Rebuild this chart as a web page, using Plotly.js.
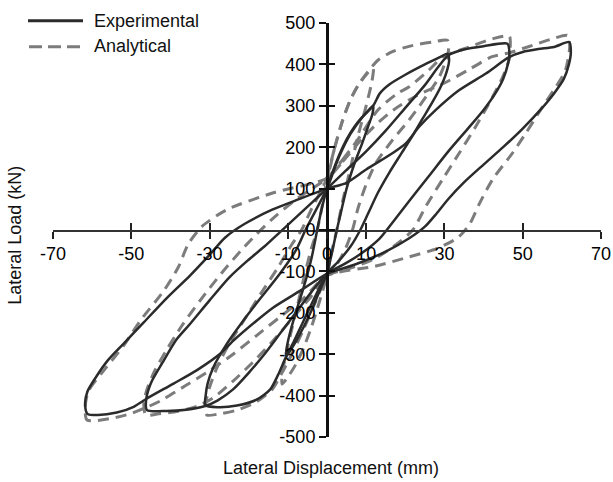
<!DOCTYPE html>
<html><head><meta charset="utf-8">
<script src="https://cdn.plot.ly/plotly-3.0.1.min.js"></script>
<style>html,body{margin:0;padding:0;background:#fff}</style>
</head><body><div id="chart" style="width:613px;height:482px"></div>
<script>
// ---- Experimental loops (solid) : displacement (mm), load (kN)
var exp1X = [0,2,4,6,8,10,11.8, 11.6,10.5,9,7,5,3.5,2.5,1.5,0, -2,-4,-6,-8,-10,-10.5, -10.3,-9.5,-8,-6,-4,-2.5,-1.5,0];
var exp1Y = [100,155,200,235,262,283,300, 280,250,210,160,100,40,0,-45,-105, -150,-195,-235,-270,-300,-307, -285,-250,-200,-140,-70,0,45,100];

var exp2X = [0,3,6,9,11.8,13.5,16,20,25,29,30.8, 31.2,30.5,29,27,24.5,22,19,16,13,10.5,8.5,6,3,0, -3,-6,-8.5,-10.5,-12.5,-14.5,-18,-23,-28,-31.1, -31,-30.5,-29,-25.6,-21.4,-17,-12,-8,-5.5,-3,0];
var exp2Y = [100,175,232,272,300,330,352,375,400,418,426, 410,380,345,310,270,230,185,140,90,40,0,-40,-75,-105, -160,-220,-270,-307,-350,-385,-410,-424,-428,-423, -400,-371,-331,-275,-219,-165,-105,-50,0,45,100];

var exp3X = [0,5,10,15,20,25,28.5,31,35,40,46.1, 46.6,46.2,45,43,40,36,31,26,21,16.5,13.5,9,4.5,0, -4,-8,-12,-16,-20,-24,-28,-31.1,-36,-41,-46, -46.2,-45,-42,-38.5,-35,-30,-25,-20.3,-16,-12,-8,-4,0];
var exp3Y = [100,145,190,240,295,350,395,422,436,444,450, 428,400,365,330,290,245,190,130,70,15,-20,-55,-82,-105, -150,-200,-250,-300,-345,-385,-412,-425,-434,-437,-435, -410,-370,-320,-265,-227,-170,-115,-74,-40,-5,30,65,100];

var exp4X = [0,5,10,16.8,20.2,23.6,27.8,33.8,40.6,46.6,50,54,58,61.9, 62.3,61.8,60.5,58,54.5,50,45,40,35,31,28,25,21,15,7,0, -6.9,-13.7,-18,-23.9,-27.3,-33.3,-39.2,-46,-49.4,-53.7,-58.5,-61.2, -61.8,-61.2,-59,-56,-52,-47,-41,-35,-30,-26,-21,-14,-7,0];
var exp4Y = [100,114,146,186,210,250,290,338,378,418,430,437,442,454, 430,400,365,330,290,245,200,158,115,75,40,8,-20,-52,-84,-106, -147,-187,-219,-267,-299,-339,-371,-407,-427,-441,-447,-444, -420,-390,-355,-315,-275,-225,-165,-110,-60,-18,15,49,75,100];

// ---- Analytical loops (dashed)
var ana1X = [0,2,4,6,8,10,11.8, 11.5,10,8,6,4,2.5,1,0, -2,-4,-6,-8,-10,-11.5, -11.3,-10,-8,-6,-4,-2.5,-1,0];
var ana1Y = [125,200,265,315,350,375,390, 360,300,230,150,70,0,-60,-110, -175,-235,-285,-325,-355,-372, -340,-280,-200,-120,-45,0,70,125];

var ana2X = [0,2,4,6,8,10.5,13,17,22,27,30.8, 31,30.4,28.7,25.3,21,16.8,12.5,10,8,6.5,4.5,2,0, -3,-6,-9,-11.5,-14,-18,-23,-28,-30.7, -31,-30,-28,-25,-21,-17,-12.5,-9,-6.5,-4,0];
var ana2Y = [125,200,265,315,350,383,410,432,446,454,458, 430,410,370,322,266,218,162,110,55,0,-50,-90,-110, -175,-240,-300,-345,-385,-415,-435,-445,-447, -420,-380,-330,-275,-215,-155,-90,-35,0,50,125];

var ana3X = [0,4,8,13,18,21,26,29.5,32,36.3,42.3,46.6, 46.8,46.7,44.9,41.4,38,33.8,29.5,25.3,21.9,17,12,6,0, -4,-9,-14,-19,-24,-29,-33,-38,-43,-46.3, -46.8,-46,-44,-41,-37,-32,-27,-22,-18,-13,-7,0];
var ana3Y = [125,170,220,290,330,346,386,418,428,442,462,468, 440,418,370,306,250,186,122,58,0,-40,-70,-92,-110, -160,-215,-270,-320,-365,-405,-425,-438,-444,-447, -420,-385,-340,-290,-230,-165,-105,-50,-10,35,80,125];

var ana4X = [0,4,8,12,17,23,30,36,42,46.6,52.5,57,61.5, 62,60.9,58.5,55.1,50.8,47.4,42.3,39,36.5,33.5,28,21,12.5,0, -6,-12,-18,-24,-30,-36,-42,-46,-50,-55,-61.3, -61.8,-61,-57,-52,-47.7,-41.7,-38,-35.5,-32,-25.6,-13.7,0];
var ana4Y = [125,165,210,250,290,325,355,386,418,428,446,460,470, 442,386,346,298,234,186,122,65,15,-18,-45,-65,-87,-110, -165,-210,-255,-300,-340,-375,-410,-428,-443,-455,-459, -430,-390,-339,-280,-219,-147,-90,-35,8,49,90,125];

// ---- Axis ticks and labels
var xTickVals = [-70,-50,-30,-10,0,10,30,50,70];
var xTickText = ['-70','-50','-30','-10','0','10','30','50','70'];
var xMarkVals = [-70,-50,-30,-10,10,30,50,70];
var yTickVals = [-500,-400,-300,-200,-100,0,100,200,300,400,500];
var yTickText = ['-500','-400','-300','-200','-100','0','100','200','300','400','500'];
var seriesNames = ['Experimental','Analytical'];
var xTitle = 'Lateral Displacement (mm)';
var yTitle = 'Lateral Load (kN)';

var SOLID = '#2b2b2b', DASHED = '#7c7c7c', DASHPAT = '11px,7px';
var FONT = 'Liberation Sans, Arial, Helvetica, sans-serif';

function loopTrace(x, y, isExp) {
  return {x: x, y: y, type: 'scatter', mode: 'lines', showlegend: false, hoverinfo: 'skip',
    name: isExp ? seriesNames[0] : seriesNames[1],
    line: {color: isExp ? SOLID : DASHED, width: isExp ? 2.5 : 3, dash: isExp ? 'solid' : DASHPAT,
           shape: 'spline', smoothing: 0.7}};
}

var traces = [
  loopTrace(ana1X, ana1Y, false), loopTrace(ana2X, ana2Y, false),
  loopTrace(ana3X, ana3Y, false), loopTrace(ana4X, ana4Y, false),
  loopTrace(exp1X, exp1Y, true), loopTrace(exp2X, exp2Y, true),
  loopTrace(exp3X, exp3Y, true), loopTrace(exp4X, exp4Y, true),
  {x: [0], y: [0], xaxis: 'x2', yaxis: 'y2', type: 'scatter', mode: 'markers',
   marker: {opacity: 0, size: 1}, showlegend: false, hoverinfo: 'skip'}
];

var W = 548, H = 414.3, L = 53, T = 23;
function px2x(p) { return (p - L) / W; }
function px2y(p) { return (T + H - p) / H; }

var layout = {
  width: 613, height: 482,
  margin: {l: L, r: 613 - L - W, t: T, b: 482 - T - H, pad: 0},
  paper_bgcolor: '#fff', plot_bgcolor: '#fff',
  font: {family: FONT, size: 18, color: '#000'},
  showlegend: false,
  xaxis: {range: [-70, 70], anchor: 'free', position: 0.5, showgrid: false, zeroline: false,
    showline: true, linecolor: '#333', linewidth: 1.5,
    ticks: 'outside', ticklen: 7, tickwidth: 2, tickcolor: '#222',
    tickmode: 'array', tickvals: xTickVals, ticktext: xTickText,
    tickfont: {family: FONT, size: 18, color: '#000'}},
  xaxis2: {range: [-70, 70], overlaying: 'x', anchor: 'free', position: 0.5, showgrid: false, zeroline: false,
    showline: false, ticks: 'inside', ticklen: 7, tickwidth: 2, tickcolor: '#222',
    tickmode: 'array', tickvals: xMarkVals, showticklabels: false},
  yaxis: {range: [-500, 500], anchor: 'free', position: 0.5, showgrid: false, zeroline: false,
    showline: true, linecolor: '#111', linewidth: 3,
    ticks: 'outside', ticklen: 7, tickwidth: 2, tickcolor: '#111',
    tickmode: 'array', tickvals: yTickVals, ticktext: yTickText,
    tickfont: {family: FONT, size: 18, color: '#000'}},
  yaxis2: {range: [-500, 500], overlaying: 'y', anchor: 'free', position: 0.5, showgrid: false, zeroline: false,
    showline: false, ticks: 'inside', ticklen: 7, tickwidth: 2, tickcolor: '#111',
    tickmode: 'array', tickvals: yTickVals, showticklabels: false},
  shapes: [
    {type: 'line', xref: 'paper', yref: 'paper', x0: px2x(28), x1: px2x(83), y0: px2y(20.7), y1: px2y(20.7),
     line: {color: SOLID, width: 3}},
    {type: 'line', xref: 'paper', yref: 'paper', x0: px2x(29), x1: px2x(83), y0: px2y(46.7), y1: px2y(46.7),
     line: {color: DASHED, width: 3, dash: '13px,6px'}}
  ],
  annotations: [
    {text: seriesNames[0], xref: 'paper', yref: 'paper', x: px2x(92), y: px2y(20.5), xanchor: 'left', yanchor: 'middle',
     showarrow: false, font: {family: FONT, size: 18, color: '#111'}},
    {text: seriesNames[1], xref: 'paper', yref: 'paper', x: px2x(92), y: px2y(46.5), xanchor: 'left', yanchor: 'middle',
     showarrow: false, font: {family: FONT, size: 18, color: '#111'}},
    {text: xTitle, xref: 'paper', yref: 'paper', x: px2x(331), y: px2y(468), xanchor: 'center', yanchor: 'middle',
     showarrow: false, font: {family: FONT, size: 18, color: '#111'}},
    {text: yTitle, xref: 'paper', yref: 'paper', x: px2x(15), y: px2y(236), xanchor: 'center', yanchor: 'middle',
     textangle: -90, showarrow: false, font: {family: FONT, size: 18, color: '#111'}}
  ]
};

Plotly.newPlot('chart', traces, layout, {displayModeBar: false, staticPlot: true});
</script></body></html>
